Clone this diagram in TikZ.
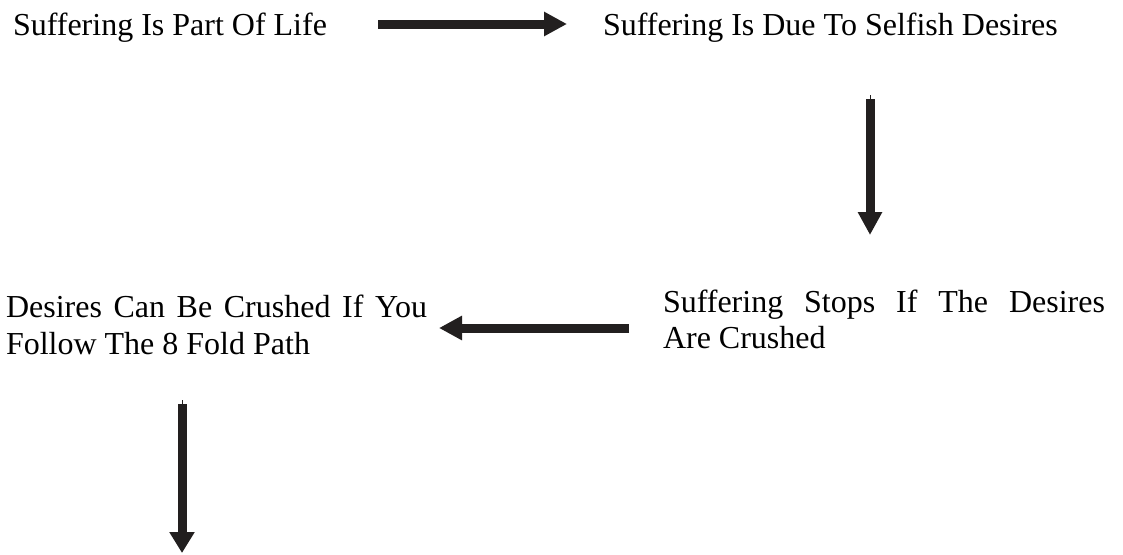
\documentclass[tikz,border=0pt]{standalone}
\usepackage{fontspec}
\setmainfont{Liberation Serif}
\usetikzlibrary{arrows.meta}
\definecolor{arrowcol}{RGB}{34,31,31}
\tikzset{
  label/.style={anchor=base west, inner sep=0pt, outer sep=0pt, font=\fontsize{32}{36.5}\selectfont},
  bigarrow/.style={draw=arrowcol, line width=9pt, -{Triangle[length=23pt,width=23pt]}},
  tick/.style={draw=arrowcol, line width=0.6pt},
}
\begin{document}
\begin{tikzpicture}[x=1pt,y=1pt]
\useasboundingbox[fill=white] (0,0) rectangle (1123,-554);
% texts
\node[label] (t1) at (13,-35) {Suffering Is Part Of Life};
\node[label] (t2) at (603,-35) {Suffering Is Due To Selfish Desires};
\node[label] (t3) at (663,-312) {\parbox[t]{442pt}{\fontsize{32}{36.5}\selectfont Suffering Stops If The Desires\linebreak Are Crushed}};
\node[label] (t4) at (6,-317) {\parbox[t]{421pt}{\fontsize{32}{37}\selectfont Desires Can Be Crushed If You\linebreak Follow The 8 Fold Path}};
% arrow end points
\coordinate (a1s) at (378,-24);
\coordinate (a1e) at (567,-24);
\coordinate (a2t) at (870,-95);
\coordinate (a2s) at (870,-99);
\coordinate (a2e) at (870,-235);
\coordinate (a3s) at (629,-328);
\coordinate (a3e) at (439,-328);
\coordinate (a4t) at (182,-400);
\coordinate (a4s) at (182,-404);
\coordinate (a4e) at (182,-553);
% arrows
\draw[bigarrow] (a1s) -- (a1e);
\draw[tick] (a2t) -- (a2s);
\draw[bigarrow] (a2s) -- (a2e);
\draw[bigarrow] (a3s) -- (a3e);
\draw[tick] (a4t) -- (a4s);
\draw[bigarrow, -{Triangle[length=21pt,width=24pt]}] (a4s) -- (a4e);
\end{tikzpicture}
\end{document}
